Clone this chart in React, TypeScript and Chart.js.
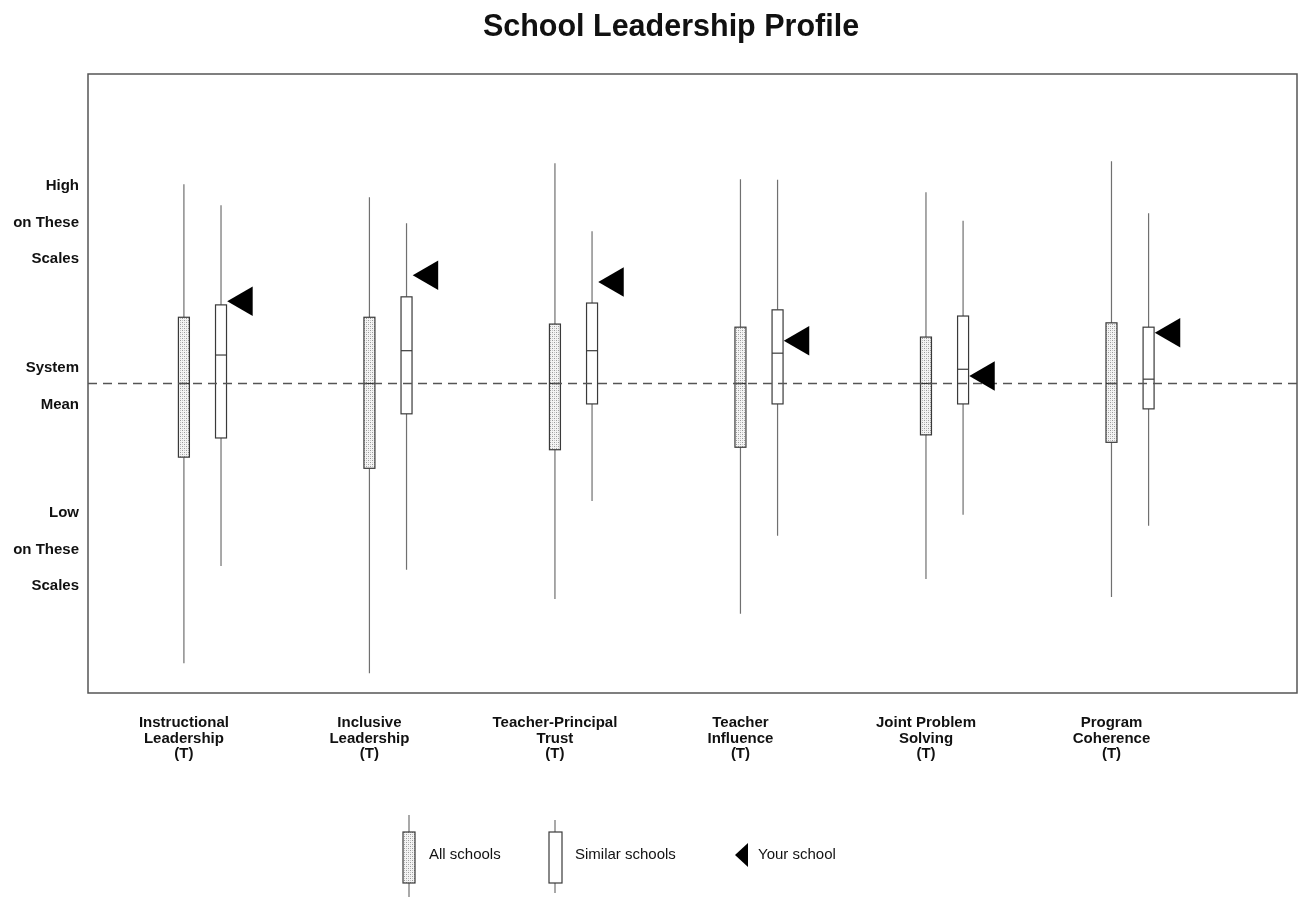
import React, { useEffect, useRef } from "react";
import { Chart, registerables } from "chart.js";

Chart.register(...registerables);

// ---------- data ----------
const categories: string[][] = [
  ["Instructional", "Leadership", "(T)"],
  ["Inclusive", "Leadership", "(T)"],
  ["Teacher-Principal", "Trust", "(T)"],
  ["Teacher", "Influence", "(T)"],
  ["Joint Problem", "Solving", "(T)"],
  ["Program", "Coherence", "(T)"],
];
const categoryPositions = [1, 2, 3, 4, 5, 6];

// All schools (T-scores)
const allMin = [4.8, 3.2, 15.2, 12.8, 18.4, 15.5];
const allQ1 = [38.1, 36.3, 39.3, 39.7, 41.7, 40.5];
const allMedian = [50, 50, 50, 50, 50, 50];
const allQ3 = [60.7, 60.7, 59.6, 59.1, 57.5, 59.8];
const allMax = [82.2, 80.1, 85.6, 83.0, 80.9, 85.9];

// Similar schools
const simMin = [20.5, 19.9, 31.0, 25.4, 28.8, 27.0];
const simQ1 = [41.2, 45.1, 46.7, 46.7, 46.7, 45.9];
const simMedian = [54.6, 55.3, 55.3, 54.9, 52.3, 50.7];
const simQ3 = [62.7, 64.0, 63.0, 61.9, 60.9, 59.1];
const simMax = [78.8, 75.9, 74.6, 82.9, 76.3, 77.5];

// Your school
const yourSchool = [63.3, 67.5, 66.4, 56.9, 51.2, 58.2];

const systemMean = 50;

const yTickValues = [82, 76, 70.1, 52.6, 46.5, 29.1, 23.2, 17.3];
const yTickLabels = ["High", "on These", "Scales", "System", "Mean", "Low", "on These", "Scales"];

const legendLabels = ["All schools", "Similar schools", "Your school"];
const titleText = "School Leadership Profile";

// ---------- layout constants ----------
const SIM_OFFSET = 0.2;
const TRI_OFFSET = 0.125;
const BOX_W = 11;
const FONT = "'Liberation Sans', Arial, Helvetica, sans-serif";

function makeStipple(ctx: CanvasRenderingContext2D): CanvasPattern | string {
  const c = document.createElement("canvas");
  c.width = 4;
  c.height = 4;
  const p = c.getContext("2d");
  if (!p) return "#ddd";
  p.fillStyle = "#f4f4f4";
  p.fillRect(0, 0, 4, 4);
  p.fillStyle = "#9a9a9a";
  p.fillRect(0, 0, 1, 1);
  p.fillRect(2, 2, 1, 1);
  p.fillStyle = "#c4c4c4";
  p.fillRect(2, 0, 1, 1);
  p.fillRect(0, 2, 1, 1);
  return ctx.createPattern(c, "repeat") || "#ddd";
}

function drawBox(
  ctx: CanvasRenderingContext2D,
  cx: number,
  yMin: number,
  yQ1: number,
  yMed: number,
  yQ3: number,
  yMax: number,
  fill: CanvasPattern | string
) {
  ctx.strokeStyle = "#707070";
  ctx.lineWidth = 1.2;
  ctx.beginPath();
  ctx.moveTo(cx, yMax);
  ctx.lineTo(cx, yQ3);
  ctx.moveTo(cx, yQ1);
  ctx.lineTo(cx, yMin);
  ctx.stroke();
  const left = cx - BOX_W / 2;
  ctx.fillStyle = fill;
  ctx.fillRect(left, yQ3, BOX_W, yQ1 - yQ3);
  ctx.strokeStyle = "#3a3a3a";
  ctx.lineWidth = 1.2;
  ctx.strokeRect(left, yQ3, BOX_W, yQ1 - yQ3);
  ctx.beginPath();
  ctx.moveTo(left, yMed);
  ctx.lineTo(left + BOX_W, yMed);
  ctx.stroke();
}

const boxPlugin = {
  id: "boxPlugin",
  beforeDatasetsDraw(chart: any) {
    const { ctx, chartArea, scales } = chart;
    const x = scales.x;
    const y = scales.y;
    ctx.save();
    const stipple = makeStipple(ctx);
    categoryPositions.forEach((pos, i) => {
      const xa = x.getPixelForValue(pos);
      drawBox(
        ctx,
        xa,
        y.getPixelForValue(allMin[i]),
        y.getPixelForValue(allQ1[i]),
        y.getPixelForValue(allMedian[i]),
        y.getPixelForValue(allQ3[i]),
        y.getPixelForValue(allMax[i]),
        stipple
      );
      const xs = x.getPixelForValue(pos + SIM_OFFSET);
      drawBox(
        ctx,
        xs,
        y.getPixelForValue(simMin[i]),
        y.getPixelForValue(simQ1[i]),
        y.getPixelForValue(simMedian[i]),
        y.getPixelForValue(simQ3[i]),
        y.getPixelForValue(simMax[i]),
        "#ffffff"
      );
    });
    const ym = y.getPixelForValue(systemMean);
    ctx.strokeStyle = "#555";
    ctx.lineWidth = 1.3;
    ctx.setLineDash([9, 6]);
    ctx.beginPath();
    ctx.moveTo(chartArea.left, ym);
    ctx.lineTo(chartArea.right, ym);
    ctx.stroke();
    ctx.setLineDash([]);
    ctx.strokeStyle = "#555";
    ctx.lineWidth = 1.5;
    ctx.strokeRect(chartArea.left, chartArea.top, chartArea.right - chartArea.left, chartArea.bottom - chartArea.top);
    ctx.restore();
  },
  afterDraw(chart: any) {
    const { ctx } = chart;
    ctx.save();
    ctx.fillStyle = "#111";
    ctx.font = `bold 30.5px ${FONT}`;
    ctx.textAlign = "center";
    ctx.textBaseline = "middle";
    ctx.fillText(titleText, 671, 28);

    const stipple = makeStipple(ctx);
    ctx.strokeStyle = "#707070";
    ctx.lineWidth = 1.2;
    ctx.beginPath();
    ctx.moveTo(409, 815);
    ctx.lineTo(409, 897);
    ctx.stroke();
    ctx.fillStyle = stipple;
    ctx.fillRect(403, 832, 12, 51);
    ctx.strokeStyle = "#3a3a3a";
    ctx.strokeRect(403, 832, 12, 51);
    ctx.strokeStyle = "#707070";
    ctx.beginPath();
    ctx.moveTo(555, 820);
    ctx.lineTo(555, 893);
    ctx.stroke();
    ctx.fillStyle = "#fff";
    ctx.fillRect(549, 832, 13, 51);
    ctx.strokeStyle = "#3a3a3a";
    ctx.strokeRect(549, 832, 13, 51);
    ctx.fillStyle = "#000";
    ctx.beginPath();
    ctx.moveTo(735, 855);
    ctx.lineTo(748, 843);
    ctx.lineTo(748, 867);
    ctx.closePath();
    ctx.fill();

    ctx.fillStyle = "#111";
    ctx.font = `15px ${FONT}`;
    ctx.textAlign = "left";
    ctx.textBaseline = "middle";
    ctx.fillText(legendLabels[0], 429, 855);
    ctx.fillText(legendLabels[1], 575, 855);
    ctx.fillText(legendLabels[2], 758, 855);
    ctx.restore();
  },
};

export default function App() {
  const ref = useRef<HTMLCanvasElement>(null);

  useEffect(() => {
    if (!ref.current) return;
    const chart = new Chart(ref.current, {
      type: "scatter",
      data: {
        datasets: [
          {
            label: "Your school",
            data: yourSchool.map((v, i) => ({ x: categoryPositions[i] + SIM_OFFSET + TRI_OFFSET, y: v })),
            pointStyle: "triangle",
            rotation: 270,
            radius: 17,
            backgroundColor: "#000",
            borderColor: "#000",
            borderWidth: 0,
          },
        ],
      },
      options: {
        animation: false,
        responsive: false,
        maintainAspectRatio: false,
        devicePixelRatio: 1,
        layout: { autoPadding: false, padding: { top: 74, right: 2, left: 0, bottom: 0 } },
        plugins: {
          legend: { display: false },
          tooltip: { enabled: false },
          title: { display: false },
        },
        scales: {
          x: {
            type: "linear",
            min: 0.483,
            max: 7.0,
            grid: { display: false, drawTicks: false },
            border: { display: false },
            afterBuildTicks: (scale: any) => {
              scale.ticks = categoryPositions.map((v) => ({ value: v }));
            },
            afterFit: (scale: any) => {
              scale.height = 207;
              scale.paddingLeft = 0;
              scale.paddingRight = 0;
            },
            ticks: {
              autoSkip: false,
              maxRotation: 0,
              minRotation: 0,
              padding: 22,
              color: "#111",
              font: { family: FONT, size: 15, weight: "bold", lineHeight: 1.04 },
              callback: (value: any) => {
                const idx = categoryPositions.indexOf(Number(value));
                return idx >= 0 ? categories[idx] : "";
              },
            },
          },
          y: {
            type: "linear",
            min: 0,
            max: 100,
            grid: { display: false, drawTicks: false },
            border: { display: false },
            afterBuildTicks: (scale: any) => {
              scale.ticks = yTickValues.map((v) => ({ value: v }));
            },
            afterFit: (scale: any) => {
              scale.width = 88;
              scale.paddingTop = 0;
              scale.paddingBottom = 0;
            },
            ticks: {
              autoSkip: false,
              padding: 9,
              color: "#111",
              font: { family: FONT, size: 15, weight: "bold" },
              callback: (_value: any, index: number) => yTickLabels[index],
            },
          },
        },
      },
      plugins: [boxPlugin],
    } as any);
    return () => chart.destroy();
  }, []);

  return (
    <div style={{ position: "absolute", left: 0, top: 0, width: 1299, height: 900, background: "#fff" }}>
      <canvas ref={ref} width={1299} height={900} style={{ display: "block", width: 1299, height: 900 }} />
    </div>
  );
}
